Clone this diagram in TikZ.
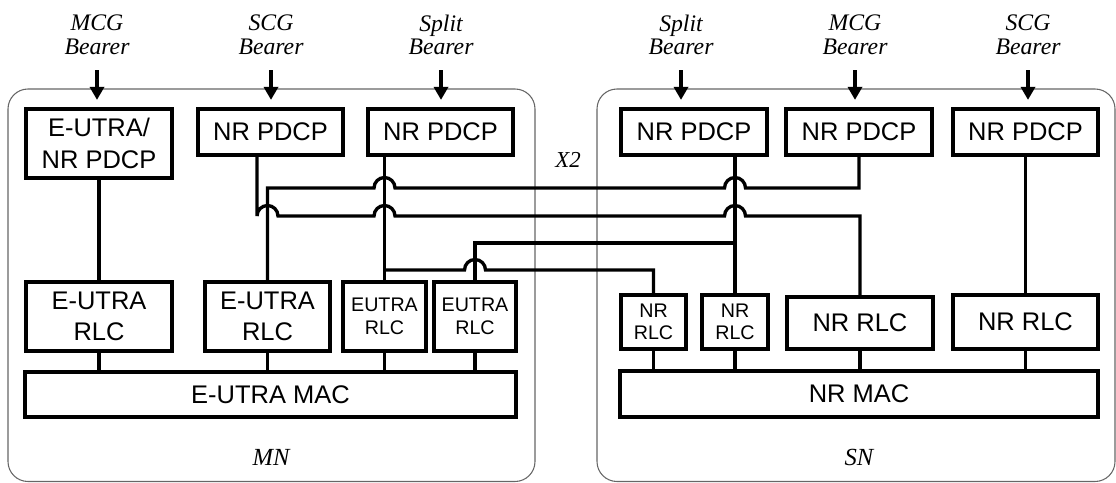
\documentclass[tikz,border=0pt]{standalone}
\usepackage{fontspec}
\setmainfont{Liberation Serif}
\setsansfont{Liberation Sans}
\usetikzlibrary{arrows.meta}

\tikzset{
		layer/.style     = {shape=rectangle, draw, line width=2.4pt,
				inner sep=0pt, align=center,
				font=\sffamily\fontsize{14.5}{18}\selectfont},
		smalllayer/.style = {layer, font=\sffamily\fontsize{11.2}{12.8}\selectfont},
		bearer/.style    = {align=center, font=\itshape\fontsize{13.5}{13.5}\selectfont},
		site/.style      = {font=\itshape\fontsize{14}{16}\selectfont},
		frame/.style     = {draw=black!60, line width=0.6pt, rounded corners=0.4cm},
		link/.style      = {line width=1.9pt},
		feed/.style      = {link, -{Triangle[width=0.28cm,length=0.26cm]}, shorten >=0.14cm}
	}

\begin{document}
\begin{tikzpicture}[x=0.02cm, y=-0.02cm]
	\useasboundingbox (0,0) rectangle (1116,483);

	% node frames
	\draw[frame] (8,89) rectangle (535,481.5);
	\draw[frame] (597,89) rectangle (1115,481.5);
	\node[site] (mn) at (271,457) {MN};
	\node[site] (sn) at (859,457) {SN};
	\node[site, font=\itshape\fontsize{13}{15}\selectfont] (xtwo) at (568,160) {X2};

	% MN side
	\node[layer, minimum width=2.92cm, minimum height=1.38cm] (pdcpA) at (99,143.5) {E-UTRA/\\NR PDCP};
	\node[layer, minimum width=2.9cm, minimum height=0.92cm] (pdcpB) at (270.5,132) {NR PDCP};
	\node[layer, minimum width=2.9cm, minimum height=0.92cm] (pdcpC) at (440.5,132) {NR PDCP};
	\node[layer, minimum width=2.92cm, minimum height=1.38cm] (rlcA) at (99,316.5) {E-UTRA\\RLC};
	\node[layer, minimum width=2.5cm, minimum height=1.38cm] (rlcB) at (267.5,316.5) {E-UTRA\\RLC};
	\node[smalllayer, minimum width=1.66cm, minimum height=1.38cm] (rlcC) at (384.5,316.5) {EUTRA\\RLC};
	\node[smalllayer, minimum width=1.64cm, minimum height=1.38cm] (rlcD) at (475,316.5) {EUTRA\\RLC};
	\node[layer, minimum width=9.82cm, minimum height=0.9cm] (macA) at (270.5,394.5) {E-UTRA MAC};

	% SN side
	\node[layer, minimum width=2.92cm, minimum height=0.92cm] (pdcpD) at (694,132) {NR PDCP};
	\node[layer, minimum width=2.92cm, minimum height=0.92cm] (pdcpE) at (859,132) {NR PDCP};
	\node[layer, minimum width=2.9cm, minimum height=0.92cm] (pdcpF) at (1025.5,132) {NR PDCP};
	\node[smalllayer, minimum width=1.3cm, minimum height=1.08cm] (rlcE) at (653.5,322) {NR\\RLC};
	\node[smalllayer, minimum width=1.32cm, minimum height=1.08cm] (rlcF) at (735,322) {NR\\RLC};
	\node[layer, minimum width=2.92cm, minimum height=1.04cm] (rlcG) at (860,323) {NR RLC};
	\node[layer, minimum width=2.9cm, minimum height=1.08cm] (rlcH) at (1025.5,322) {NR RLC};
	\node[layer, minimum width=9.56cm, minimum height=0.92cm] (macB) at (859,394) {NR MAC};

	% bearers
	\node[bearer] (mcgA) at (97,35) {MCG\\Bearer};
	\node[bearer] (scgA) at (271,35) {SCG\\Bearer};
	\node[bearer] (splitA) at (441,35) {Split\\Bearer};
	\node[bearer] (splitB) at (681,35) {Split\\Bearer};
	\node[bearer] (mcgB) at (855,35) {MCG\\Bearer};
	\node[bearer] (scgB) at (1028,35) {SCG\\Bearer};
	\foreach \b/\p in {mcgA/pdcpA, scgA/pdcpB, splitA/pdcpC, splitB/pdcpD, mcgB/pdcpE, scgB/pdcpF}
		\draw[feed] ([yshift=-0.18cm]\b.south) -- (\b.south |- \p.north);

	% RLC to MAC
	\foreach \r in {rlcA, rlcB, rlcC, rlcD}
		\draw[link] (\r.south) -- (\r.south |- macA.north);
	\foreach \r in {rlcE, rlcF, rlcG, rlcH}
		\draw[link] (\r.south) -- (\r.south |- macB.north);

	% PDCP to RLC
	\draw[link] (pdcpA) -- (rlcA);
	\draw[link] (pdcpF) -- (rlcH);
	\draw[link] (pdcpC.south -| rlcC.north) -- (rlcC.north);
	\draw[link] (pdcpD.south -| rlcF.north) -- (rlcF.north);

	% across X2
	\draw[link] ([xshift=-0.27cm]pdcpB.south) -- (257,216)
		arc[start angle=180, end angle=360, radius=10.5] -- (374,216)
		arc[start angle=180, end angle=360, radius=10.5] -- (724.5,216)
		arc[start angle=180, end angle=360, radius=10.5] -| (rlcG.north);
	\draw[link] (rlcB.north) |- (374,188)
		arc[start angle=180, end angle=360, radius=10.5] -- (724.5,188)
		arc[start angle=180, end angle=360, radius=10.5] -| (pdcpE.south);
	\draw[link] (384.5,270) -- (464.5,270)
		arc[start angle=180, end angle=360, radius=10.5] -| (rlcE.north);
	\draw[link] (rlcD.north) |- (735,243);
\end{tikzpicture}
\end{document}
